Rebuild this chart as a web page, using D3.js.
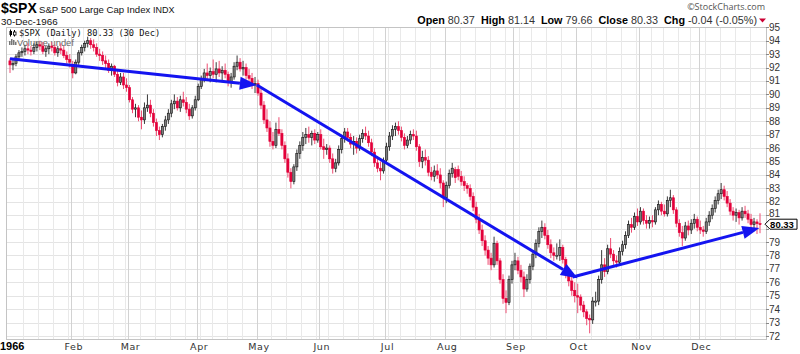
<!DOCTYPE html>
<html><head><meta charset="utf-8">
<script src="https://cdn.jsdelivr.net/npm/d3@7"></script>
<style>body{margin:0;background:#fff}svg{display:block}</style>
</head><body>
<svg id="c" width="800" height="354"></svg>
<script>
// ---- DATA ----
const opens = [
 92.5,92.2,92.3,92.8,93.1,93.2,93.4,93.3,93.2,93.5,93.7,93.6,93.2,93.4,93.6,93.5,93.1,93.4,93.3,92.9,92.6,
 92.2,91.6,92.4,93.1,93.5,93.8,94.0,93.7,93.5,93.0,92.9,92.5,92.3,91.8,92.1,91.5,90.9,91.3,90.7,
 90.5,89.6,88.9,89.0,88.3,88.1,89.0,89.2,88.6,87.9,87.3,87.0,87.6,88.1,88.6,89.3,89.5,89.0,89.6,89.4,88.9,88.4,89.0,
 89.6,90.6,91.2,91.6,91.4,91.7,91.5,91.9,91.6,91.8,91.5,90.9,91.3,92.1,92.4,91.9,92.0,91.4,91.2,90.7,
 90.8,90.1,89.2,88.1,87.5,86.5,86.2,87.4,87.1,86.2,85.2,84.2,83.5,84.6,85.6,86.2,86.8,87.0,86.8,87.1,86.6,
 87.0,86.1,85.9,86.0,85.2,84.5,84.9,85.9,86.7,87.2,86.8,86.3,86.5,86.0,86.7,87.1,86.9,86.4,85.7,84.9,84.5,84.3,
 85.1,86.1,86.9,87.4,87.6,87.3,86.8,86.2,86.6,87.0,86.9,86.1,85.0,85.3,85.1,84.2,83.9,84.3,84.0,83.4,
 82.3,83.2,84.1,83.8,84.4,83.9,83.5,83.2,83.0,82.4,81.6,80.7,79.9,79.1,78.4,77.8,77.3,78.9,77.6,76.2,74.8,74.5,76.2,
 77.3,77.6,76.9,76.4,75.5,76.2,77.2,78.1,78.9,79.8,80.1,79.5,78.8,78.2,78.0,78.0,78.6,77.7,76.7,76.1,75.4,
 75.0,74.9,74.3,73.8,73.3,73.2,74.6,74.6,76.2,77.3,76.8,78.5,78.1,77.6,77.5,78.3,78.8,79.5,80.3,80.1,80.9,
 80.5,81.3,80.6,80.4,80.6,80.5,81.4,81.8,81.3,81.1,82.1,82.3,81.4,80.4,79.7,79.3,80.2,79.9,80.4,80.7,
 80.1,79.9,79.8,80.5,81.0,81.5,82.1,82.6,82.9,82.4,81.9,81.3,81.0,81.2,80.8,81.3,81.1,80.7,80.3,80.5,80.37
];
const highs = [
 92.7,92.6,93.0,93.3,93.5,93.7,93.8,93.6,93.8,93.9,94.0,93.9,93.6,93.8,93.9,93.7,93.6,93.8,93.6,93.2,93.0,
 92.5,92.6,93.3,93.7,94.0,94.3,94.2,94.1,93.8,93.4,93.2,92.9,92.6,92.3,92.2,91.8,91.6,91.6,91.2,
 90.7,89.8,89.3,89.2,88.8,89.4,90.0,89.6,88.9,88.2,87.6,87.8,88.4,88.9,89.6,90.0,89.8,89.9,90.2,89.8,89.3,89.2,89.9,
 90.8,91.4,91.9,92.3,92.0,92.6,92.4,92.5,92.1,92.3,91.7,91.6,92.4,92.9,92.7,92.5,92.3,91.9,91.6,91.3,
 91.1,90.4,89.5,88.9,88.0,87.2,87.9,88.3,87.4,86.5,85.6,84.5,84.8,85.9,86.5,87.2,87.5,87.6,87.3,87.4,87.2,
 87.4,86.7,86.3,86.2,85.6,85.2,86.2,87.0,87.5,87.5,87.1,86.9,86.8,87.0,87.4,87.6,87.3,86.7,86.0,85.4,85.0,85.3,
 86.4,87.2,87.7,87.9,88.0,87.6,87.1,86.9,87.3,87.4,87.3,86.3,85.8,85.9,85.4,84.6,84.7,84.8,84.5,83.6,
 83.5,84.4,84.9,84.6,84.7,84.3,83.9,83.4,83.3,82.7,82.0,81.1,80.3,79.5,78.7,78.2,79.4,79.1,77.8,76.6,75.4,76.5,77.6,
 78.2,77.9,77.3,76.8,76.6,77.4,78.4,79.2,80.1,80.6,80.4,79.9,79.2,78.6,78.9,79.2,78.8,77.9,77.0,76.4,76.0,
 75.9,75.1,74.6,74.0,73.6,74.9,75.3,76.5,78.4,77.8,78.8,79.3,78.4,78.0,78.6,79.1,79.8,80.6,80.8,81.2,81.5,
 81.6,81.5,81.0,80.9,81.0,81.6,82.1,82.0,81.8,82.4,82.9,82.5,81.6,80.7,80.2,80.5,80.6,80.7,81.1,80.9,
 80.6,80.2,80.8,81.3,81.8,82.4,82.9,83.4,83.2,82.8,82.2,81.6,81.5,81.4,81.6,81.7,81.4,81.1,80.8,80.7,81.14
];
const lows = [
 91.6,91.8,92.1,92.6,92.8,92.9,93.0,92.9,93.0,93.2,93.3,93.0,92.8,93.0,93.2,92.9,92.8,93.0,92.7,92.3,92.0,
 91.2,91.5,92.2,92.9,93.2,93.5,93.4,93.2,92.8,92.5,92.2,91.9,91.6,91.4,91.3,90.6,90.7,90.4,90.2,
 89.4,88.6,88.3,88.0,87.4,87.8,88.7,88.3,87.6,86.9,86.6,86.8,87.3,87.8,88.3,88.9,88.8,88.7,89.1,88.6,88.1,88.2,88.8,
 89.5,90.4,90.9,91.1,90.9,91.2,90.9,91.3,90.9,91.2,90.6,90.5,91.1,91.8,91.7,91.4,91.1,90.8,90.4,90.1,
 89.9,88.9,87.8,87.2,86.1,85.9,86.0,86.9,85.9,84.9,83.8,83.0,83.3,84.3,85.2,85.8,86.3,86.4,86.2,86.3,86.4,
 85.9,85.2,85.5,84.9,84.1,84.2,84.7,85.6,86.4,86.5,86.0,85.5,85.6,85.8,86.4,86.6,86.1,85.4,84.6,84.2,83.6,84.1,
 84.9,85.8,86.6,86.9,87.0,86.5,85.9,86.0,86.3,86.6,85.8,84.6,84.5,84.7,83.9,83.6,83.5,83.7,83.0,81.6,
 81.9,83.0,83.8,83.4,83.6,83.2,82.8,82.6,82.1,81.3,80.4,79.6,78.7,78.0,77.3,76.9,77.1,77.3,75.9,74.4,73.7,74.3,75.9,
 76.9,76.6,76.0,74.9,75.3,75.9,76.9,77.8,78.6,79.3,79.2,78.5,77.8,77.6,77.7,77.6,77.4,76.3,75.7,75.0,74.5,
 73.7,73.9,73.4,72.8,72.2,72.9,74.2,74.3,75.9,76.4,76.6,77.8,77.3,77.1,77.3,78.0,78.5,79.3,79.7,79.9,80.2,
 80.3,80.3,80.0,80.0,80.1,80.3,81.0,81.0,80.9,80.9,81.6,81.1,80.1,79.4,78.7,79.1,79.5,79.6,80.0,79.8,
 79.6,79.4,79.6,80.2,80.7,81.2,81.8,82.2,82.1,81.6,81.0,80.6,80.5,80.3,80.6,80.8,80.4,80.0,79.8,79.6,79.66
];
const closes = [
 92.2,92.3,92.8,93.1,93.2,93.4,93.3,93.2,93.5,93.7,93.6,93.2,93.4,93.6,93.5,93.1,93.4,93.3,92.9,92.6,92.4,
 91.6,92.4,93.1,93.5,93.8,94.0,93.7,93.5,93.0,92.9,92.5,92.3,91.8,92.1,91.5,90.9,91.3,90.7,90.5,
 89.6,88.9,89.0,88.3,88.1,89.0,89.2,88.6,87.9,87.3,87.0,87.6,88.1,88.6,89.3,89.5,89.0,89.6,89.4,88.9,88.4,89.0,89.6,
 90.6,91.2,91.6,91.4,91.7,91.5,91.9,91.6,91.8,91.5,90.9,91.3,92.1,92.4,91.9,92.0,91.4,91.2,90.7,90.8,
 90.1,89.2,88.1,87.5,86.5,86.2,87.4,87.1,86.2,85.2,84.2,83.5,84.6,85.6,86.2,86.8,87.0,86.8,87.1,86.6,87.0,
 86.1,85.9,86.0,85.2,84.5,84.9,85.9,86.7,87.2,86.8,86.3,86.5,86.0,86.7,87.1,86.9,86.4,85.7,84.9,84.5,84.3,85.1,
 86.1,86.9,87.4,87.6,87.3,86.8,86.2,86.6,87.0,86.9,86.1,85.0,85.3,85.1,84.2,83.9,84.3,84.0,83.4,82.3,
 83.2,84.1,84.5,84.4,83.9,83.5,83.2,83.0,82.4,81.6,80.7,79.9,79.1,78.4,77.8,77.3,78.9,77.6,76.2,74.8,74.5,76.2,77.3,
 77.6,76.9,76.4,75.5,76.2,77.2,78.1,78.9,79.8,80.1,79.5,78.8,78.2,78.0,78.0,78.6,77.7,76.7,76.1,75.4,75.0,
 74.9,74.3,73.8,73.3,73.2,74.6,74.6,76.2,77.3,76.8,78.5,78.1,77.6,77.5,78.3,78.8,79.5,80.3,80.1,80.9,80.5,
 81.3,80.6,80.4,80.6,80.5,81.4,81.8,81.3,81.1,82.1,82.3,81.4,80.4,79.7,79.3,80.2,79.9,80.4,80.7,80.1,
 79.9,79.8,80.5,81.0,81.5,82.1,82.6,82.9,82.4,81.9,81.3,81.0,81.2,80.8,81.3,81.1,80.7,80.3,80.5,80.37,80.33
];
const holidays = ["1966-02-22","1966-04-08","1966-05-30","1966-07-04","1966-09-05","1966-11-08","1966-11-24","1966-12-26"];
const monthLabels = ["1966","Feb","Mar","Apr","May","Jun","Jul","Aug","Sep","Oct","Nov","Dec"];
const yTickValues = [72,73,74,75,76,77,78,79,80,81,82,83,84,85,86,87,88,89,90,91,92,93,94,95];
// trend arrows in (trading-day index, price)
const trendLines = [
  {x1:0, y1:92.66, x2:82.6, y2:90.7},
  {x1:82.6, y1:90.7, x2:190.0, y2:76.3},
  {x1:188.3, y1:76.4, x2:250.8, y2:80.04}
];
const headerInfo = {open:"80.37", high:"81.14", low:"79.66", close:"80.33", chg:"-0.04 (-0.05%)"};

// ---- trading calendar ----
const fmt = d3.utcFormat("%Y-%m-%d");
const days = [];
for (let d = new Date(Date.UTC(1966,0,1)); d.getUTCFullYear() === 1966; d = new Date(d.getTime()+86400000)) {
  const wd = d.getUTCDay();
  if (wd === 0 || wd === 6) continue;
  if (holidays.includes(fmt(d))) continue;
  days.push(d);
}
const data = closes.map((c,i)=>({i, o:opens[i], h:highs[i], l:lows[i], c, prev: i>0?closes[i-1]:opens[i], date:days[i]}));

const monthStarts = [], weekStarts = [];
days.forEach((d,i)=>{
  if (i===0 || d.getUTCMonth()!==days[i-1].getUTCMonth()) monthStarts.push(i);
  else if (d.getUTCDay() < days[i-1].getUTCDay()) weekStarts.push(i);
});

// ---- layout ----
const svg = d3.select("#c");
const L = 6, R = 766, T = 27, B = 339;
const x = d3.scaleLinear().domain([0, closes.length-1]).range([10, 760]);
const y = d3.scaleLinear().domain([72, 95]).range([336, 27.3]);
const lastClose = closes[closes.length-1];
const lastY = y(lastClose);

const font = "'Liberation Sans', Arial, sans-serif";

// grid
const g = svg.append("g");
g.selectAll(".hg").data(yTickValues).join("line")
  .attr("x1", L).attr("x2", R).attr("y1", d=>Math.round(y(d))+0.5).attr("y2", d=>Math.round(y(d))+0.5)
  .attr("stroke", "#e4e4e4").attr("stroke-width", 1);
g.selectAll(".wg").data(weekStarts).join("line")
  .attr("x1", d=>Math.round(x(d)-1.5)+0.5).attr("x2", d=>Math.round(x(d)-1.5)+0.5).attr("y1", T).attr("y2", B)
  .attr("stroke", "#e9e9e9").attr("stroke-width", 1);
g.selectAll(".mg").data(monthStarts.slice(1)).join("line")
  .attr("x1", d=>Math.round(x(d)-1.5)+0.5).attr("x2", d=>Math.round(x(d)-1.5)+0.5).attr("y1", T).attr("y2", B)
  .attr("stroke", "#d2d2d2").attr("stroke-width", 1);

// frame
svg.append("rect").attr("x", L+0.5).attr("y", T+0.5).attr("width", R-L).attr("height", B-T)
  .attr("fill", "none").attr("stroke", "#c4c4c4");

// legend inside plot (drawn under candles like the reference)
const lg = svg.append("g");
lg.append("line").attr("x1", 10.5).attr("x2", 10.5).attr("y1", 29.5).attr("y2", 36.5).attr("stroke", "#000");
lg.append("rect").attr("x", 9.5).attr("y", 31).attr("width", 2.5).attr("height", 4).attr("fill", "#000");
lg.append("line").attr("x1", 14.5).attr("x2", 14.5).attr("y1", 30).attr("y2", 36.5).attr("stroke", "#000");
lg.append("rect").attr("x", 13.5).attr("y", 32).attr("width", 2.5).attr("height", 3).attr("fill", "#fff").attr("stroke", "#000").attr("stroke-width", 0.8);
lg.append("text").attr("x", 19).attr("y", 36).attr("font-family", "'DejaVu Sans Mono', 'Liberation Mono', monospace").attr("font-size", 8.7).attr("fill", "#111")
  .text("$SPX (Daily) " + lastClose.toFixed(2) + " (30 Dec)");
[[9,41,4],[11,39,6],[13,40,5],[15,42,3]].forEach(([bx,by,bh])=>{
  lg.append("rect").attr("x", bx).attr("y", by).attr("width", 1.5).attr("height", bh).attr("fill", "#777");
});
lg.append("text").attr("x", 17).attr("y", 45.5).attr("font-family", font).attr("font-size", 9.3).attr("fill", "#666").text("Volume undef");

// candles
const RED = "#e3003a";
const cg = svg.append("g");
const cand = cg.selectAll("g").data(data).join("g");
cand.append("line")
  .attr("x1", d=>x(d.i)).attr("x2", d=>x(d.i))
  .attr("y1", d=>y(d.h)).attr("y2", d=>y(d.l))
  .attr("stroke", d=> d.c < d.prev ? "#ee4d72" : "#3a3a3a").attr("stroke-width", 1);
cand.append("rect")
  .attr("x", d=>x(d.i)-1.1).attr("width", 2.2)
  .attr("y", d=>Math.min(y(d.o), y(d.c)))
  .attr("height", d=>Math.max(1, Math.abs(y(d.o)-y(d.c))))
  .attr("fill", d=> d.c < d.prev ? RED : (Math.abs(d.o-d.c)<0.05 ? "#fff" : "#7c7c7c"))
  .attr("stroke", d=> d.c < d.prev ? RED : "#111").attr("stroke-width", 0.6);

// trend arrows
const BLUE = "#1414f0";
const ag = svg.append("g");
trendLines.forEach(t=>{
  const X1 = x(t.x1), Y1 = y(t.y1), X2 = x(t.x2), Y2 = y(t.y2);
  const ang = Math.atan2(Y2-Y1, X2-X1);
  const len = 17, hw = 6.5;
  const bx = X2 - len*Math.cos(ang), by = Y2 - len*Math.sin(ang);
  ag.append("line").attr("x1", X1).attr("y1", Y1).attr("x2", bx).attr("y2", by)
    .attr("stroke", BLUE).attr("stroke-width", 3);
  const px = -Math.sin(ang), py = Math.cos(ang);
  ag.append("path").attr("d", `M${X2},${Y2}L${bx+px*hw},${by+py*hw}L${bx-px*hw},${by-py*hw}Z`).attr("fill", BLUE);
});

// right axis (the label under the price tag is hidden, as in the reference)
const TAGH = 5;
const shown = yTickValues.filter(v => Math.abs(y(v) - lastY) > 6);
const ax = svg.append("g");
ax.selectAll("line").data(yTickValues).join("line")
  .attr("x1", R).attr("x2", R+3).attr("y1", d=>Math.round(y(d))+0.5).attr("y2", d=>Math.round(y(d))+0.5)
  .attr("stroke", "#888");
ax.selectAll("text").data(shown).join("text")
  .attr("x", R+3)
  .attr("y", d=>{
    const base = y(d)+3.5;
    if (y(d) < lastY && base > lastY-7.3) return lastY-7.3;
    if (y(d) > lastY && base-9 < lastY+TAGH+0.5) return lastY+TAGH+9.6;
    return base;
  })
  .text(d=>d)
  .attr("font-family", font).attr("font-size", 10).attr("fill", "#333");

// last price tag
svg.append("path").attr("d", `M${R-1},${lastY}L${R+4},${lastY-TAGH}L${797},${lastY-TAGH}L${797},${lastY+TAGH}L${R+4},${lastY+TAGH}Z`)
  .attr("fill", "#fff").attr("stroke", "#000").attr("stroke-width", 1);
svg.append("text").attr("x", 782).attr("y", lastY+3.4).attr("text-anchor", "middle")
  .attr("font-family", font).attr("font-size", 9.5).attr("font-weight", "bold").text(lastClose.toFixed(2));

// bottom axis
svg.selectAll(".ml").data(monthStarts).join("text")
  .attr("x", (d,k)=> k===0 ? 0 : x(d)+1)
  .attr("y", 350)
  .attr("text-anchor", (d,k)=> k===0 ? "start" : "middle")
  .attr("font-family", (d,k)=> k===0 ? font : "'DejaVu Sans', Verdana, sans-serif")
  .attr("font-size", (d,k)=> k===0 ? 11 : 9.5)
  .attr("font-weight", (d,k)=> k===0 ? "bold" : "normal")
  .attr("letter-spacing", (d,k)=> k===0 ? 0 : 0.6)
  .attr("fill", (d,k)=> k===0 ? "#000" : "#333")
  .text((d,k)=>monthLabels[k]);

// header
svg.append("text").attr("x", 1).attr("y", 13).attr("font-family", font).attr("font-size", 14).attr("font-weight", "bold").text("$SPX");
svg.append("text").attr("x", 39).attr("y", 12.5).attr("font-family", font).attr("font-size", 9.6).attr("fill", "#111").text("S&P 500 Large Cap Index");
svg.append("text").attr("x", 153).attr("y", 12.5).attr("font-family", font).attr("font-size", 9).attr("fill", "#111").text("INDX");
svg.append("text").attr("x", 1).attr("y", 24.5).attr("font-family", font).attr("font-size", 9.8).attr("fill", "#111").text("30-Dec-1966");

svg.append("text").attr("x", 765).attr("y", 10).attr("text-anchor", "end").attr("font-family", "'Open Sans', 'DejaVu Sans', sans-serif").attr("font-size", 9).attr("fill", "#555").text("\u00A9StockCharts.com");

const hdr = svg.append("text").attr("x", 757).attr("y", 23.5).attr("text-anchor", "end").attr("font-family", font).attr("font-size", 10.8).attr("fill", "#333").attr("xml:space","preserve");
[["Open ",headerInfo.open],["  High ",headerInfo.high],["  Low ",headerInfo.low],["  Close ",headerInfo.close],["  Chg ",headerInfo.chg]].forEach(([k,v])=>{
  hdr.append("tspan").attr("font-weight","bold").attr("fill","#000").text(k);
  hdr.append("tspan").text(v);
});
svg.append("path").attr("d", "M759,18.5L766,18.5L762.5,22.5Z").attr("fill", "#cc0033");
</script>
</body></html>
